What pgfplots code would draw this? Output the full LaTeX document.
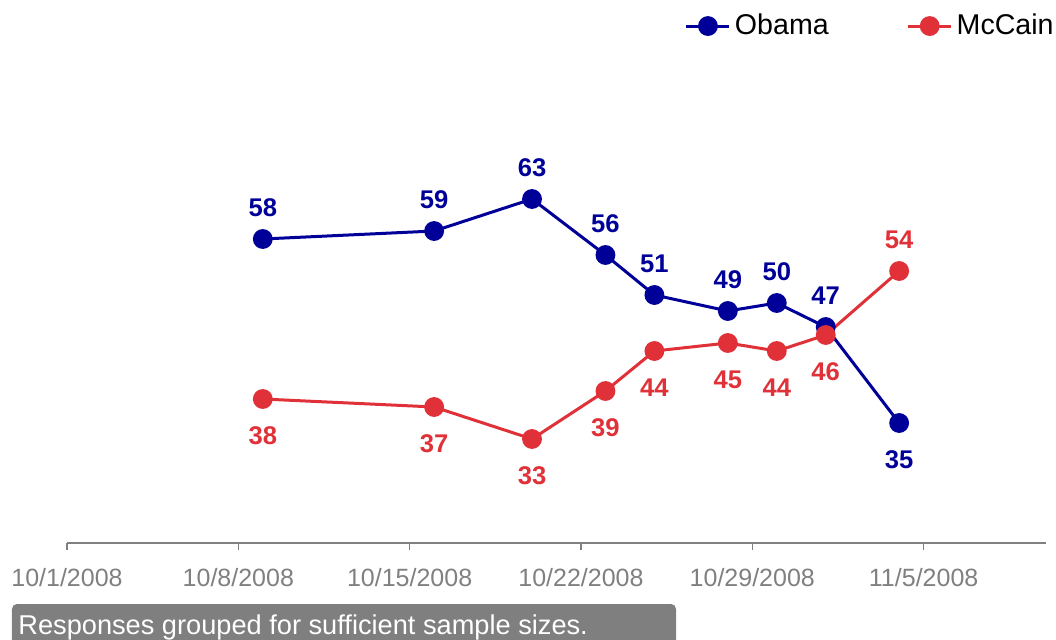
\documentclass[border=0pt]{standalone}
\usepackage{fontspec}
\setmainfont{Liberation Sans}
\usepackage{pgfplots}
\pgfplotsset{compat=1.18}
\usepackage{pgfplotstable}
\definecolor{obama}{RGB}{0,0,153}
\definecolor{mccain}{RGB}{224,49,56}
\definecolor{axgray}{RGB}{128,128,128}
\definecolor{boxgray}{RGB}{127,127,127}

% x = days after 10/1/2008
\pgfplotstableread{
x y dy
8 58 15.5
15 59 15.5
19 63 15.5
22 56 15.5
24 51 15.5
27 49 15.5
29 50 15.5
31 47 15.5
34 35 -18.5
}\obama

\pgfplotstableread{
x y dy
8 38 -18.5
15 37 -18.5
19 33 -18.5
22 39 -18.5
24 44 -18.5
27 45 -18.5
29 44 -18.5
31 46 -18.5
34 54 15.5
}\mccain

\begin{document}
\begin{tikzpicture}
\path[use as bounding box] (-33.5bp,-48.5bp) rectangle (494.5bp,271.5bp);
\begin{axis}[
  at={(0,0)}, anchor=south west, scale only axis,
  width=489.5bp, height=200bp,
  xmin=0, xmax=40, ymin=20, ymax=70, clip=false,
  axis x line=bottom, axis y line=none,
  x axis line style={-, draw=axgray, line width=0.75bp},
  xtick={0,7,14,21,28,35},
  xticklabels={10/1/2008,10/8/2008,10/15/2008,10/22/2008,10/29/2008,11/5/2008},
  xtick style={draw=axgray, line width=0.75bp},
  major tick length=3.5bp, tick align=outside,
  xticklabel style={text=axgray, font=\fontsize{12.5bp}{14bp}\selectfont, yshift=-5.5bp},
  /pgf/number format/assume math mode=true,
  legend columns=2,
  legend style={draw=none, fill=none, at={(1.0184,1.343)}, anchor=north east,
    font=\fontsize{14.3bp}{16bp}\selectfont,
    /tikz/every even column/.append style={column sep=37bp}},
  legend image code/.code={\draw[mark repeat=2,mark phase=2,#1] plot coordinates {(0bp,0bp) (10.75bp,0bp) (21.5bp,0bp)};},
  nodes near coords,
  visualization depends on={\thisrow{dy} \as \dy},
  every node near coord/.append style={anchor=center, yshift=\dy bp, inner sep=0pt,
    font=\fontsize{12.8bp}{15bp}\selectfont\bfseries},
]
\addplot[obama, line width=1.5bp, mark=*, mark size=4.2bp,
  mark options={solid, fill=obama, draw=obama}, nodes near coords style={text=obama}]
  table[x=x, y=y] {\obama};
\addlegendentry{Obama}
\addplot[mccain, line width=1.5bp, mark=*, mark size=4.2bp,
  mark options={solid, fill=mccain, draw=mccain}, nodes near coords style={text=mccain}]
  table[x=x, y=y] {\mccain};
\addlegendentry{McCain}
\end{axis}
\fill[boxgray, rounded corners=2.5bp] (-27.5bp,-30.5bp) rectangle (304.5bp,-60bp);
\node[anchor=west, text=white, inner sep=0pt, font=\fontsize{13.6bp}{15bp}\selectfont]
  at (-24.5bp,-42bp) {Responses grouped for sufficient sample sizes.};
\end{tikzpicture}
\end{document}
